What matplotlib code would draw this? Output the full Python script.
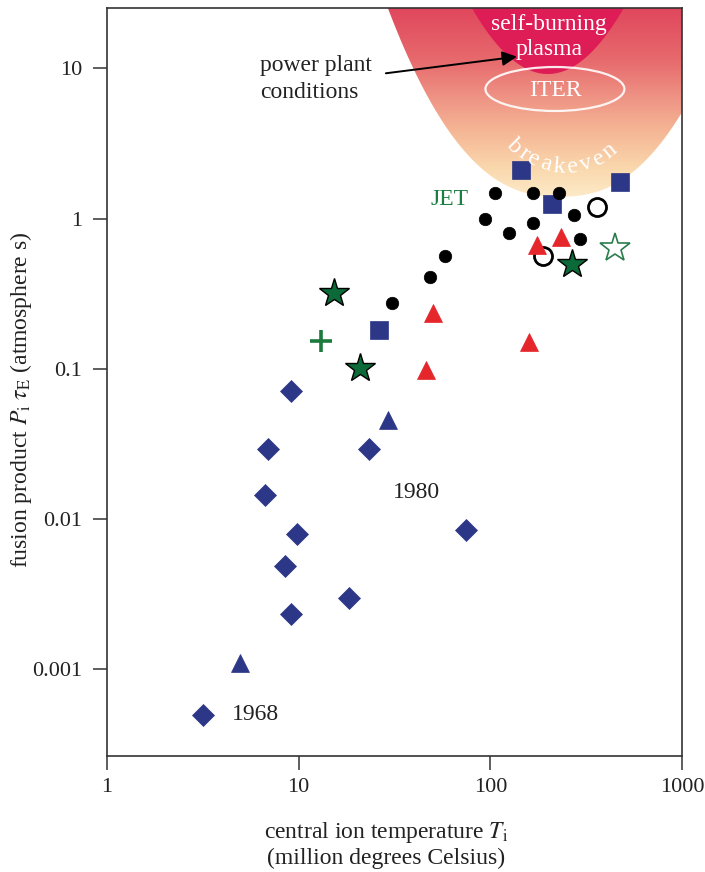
import numpy as np
import matplotlib
matplotlib.use('Agg')
import matplotlib.pyplot as plt
from matplotlib.colors import LinearSegmentedColormap
from matplotlib.patches import Polygon, Ellipse
from matplotlib.transforms import Affine2D
from matplotlib.ticker import NullLocator
from matplotlib.textpath import TextToPath
from matplotlib.font_manager import FontProperties

plt.rcParams['font.family'] = ['Liberation Serif', 'DejaVu Serif']
plt.rcParams['mathtext.fontset'] = 'stix'

# ---------------- data (temperature in million deg C, fusion product in atm s)
diamond_T = [3.18, 9.09, 6.94, 6.67, 9.84, 8.48, 9.09, 18.3, 23.3, 74.3]
diamond_P = [5.0e-4, 0.0715, 0.0293, 0.0145, 0.0080, 0.0049, 0.00233, 0.0030, 0.0291, 0.0085]
btri_T = [4.94, 29.3]
btri_P = [0.00111, 0.0456]
square_T = [26.1, 144, 211, 473]
square_P = [0.180, 2.10, 1.25, 1.76]
circle_T = [105.7, 166.8, 228.8, 93.7, 166.8, 274, 125, 294.5, 58.2, 48.6, 30.8]
circle_P = [1.47, 1.47, 1.48, 0.99, 0.94, 1.06, 0.80, 0.73, 0.56, 0.41, 0.275]
open_circle_T = [361, 189]
open_circle_P = [1.20, 0.56]
rtri_T = [176, 235, 50.4, 159, 46.0]
rtri_P = [0.666, 0.75, 0.234, 0.151, 0.098]
star_T = [15.3, 20.9, 267]
star_P = [0.318, 0.101, 0.498]
open_star_T = [447]
open_star_P = [0.634]
plus_T = [13.1]
plus_P = [0.154]

xticks = [1, 10, 100, 1000]
xticklabels = ['1', '10', '100', '1000']
yticks = [0.001, 0.01, 0.1, 1, 10]
yticklabels = ['0.001', '0.01', '0.1', '1', '10']

NAVY = '#2d3787'
RED = '#e5262b'
GREEN = '#0b6a38'

W, H = 705, 872
fig = plt.figure(figsize=(W / 100, H / 100), dpi=100)
ax = fig.add_axes([107 / W, 1 - 756 / H, 575 / W, 748 / H])
ax.set_xscale('log')
ax.set_yscale('log')

# ---------------- background regions (log-space shapes)
u = np.linspace(-0.2, 3.3, 900)
v_out = np.minimum(0.145 + 1.64 * np.abs(u - 2.36) ** 2.4, 1.9)
outer = np.column_stack([10 ** u, 10 ** v_out])
outer = np.vstack([outer, [[10 ** 3.3, 10 ** 1.9], [10 ** -0.2, 10 ** 1.9]]])
outer_patch = Polygon(outer, closed=True, transform=ax.transData,
                      facecolor='none', edgecolor='none')

stops = [(0.0, '#fdeccb'), (0.156, '#fad9ae'), (0.365, '#f5b594'),
         (0.521, '#ef9686'), (0.729, '#e76a6d'), (1.0, '#e0475d')]
cmap = LinearSegmentedColormap.from_list('bk', stops)
grad = np.linspace(0, 1, 256).reshape(-1, 1)
im = ax.imshow(grad, cmap=cmap, extent=(0, 1, (756 - 200) / 748, 1.0),
               transform=ax.transAxes, aspect='auto', origin='lower',
               interpolation='bilinear', zorder=0.5)
im.set_clip_path(outer_patch)

v_in = np.minimum(0.9614 + 2.8 * (u - 2.30) ** 2, 1.9)
inner = np.column_stack([10 ** u, 10 ** v_in])
inner = np.vstack([inner, [[10 ** 3.3, 10 ** 1.9], [10 ** -0.2, 10 ** 1.9]]])
ax.add_patch(Polygon(inner, closed=True, facecolor='#de1c55',
                     edgecolor='none', zorder=0.6))

ax.add_patch(Ellipse((0.779, (756 - 89) / 748), 0.2417, 0.0588,
                     transform=ax.transAxes, fill=False, edgecolor='white',
                     lw=1.6, alpha=0.9, zorder=0.7))
ax.text(0.779, (756 - 91) / 748, 'ITER', transform=ax.transAxes,
        ha='center', va='center', color='white', fontsize=17, zorder=1.5)
ax.text(0.769, (756 - 37) / 748, 'self-burning\nplasma', transform=ax.transAxes,
        ha='center', va='center', color='white', fontsize=17,
        linespacing=1.25, zorder=1.5)

# curved "breakeven"
pixup = Affine2D().scale(1 / W, 1 / H) + fig.transFigure
BFS = 17.5
fp = FontProperties(family='Liberation Serif', size=BFS)
ttp = TextToPath()
word = 'breakeven'
wpx = [ttp.get_text_width_height_descent(c, fp, ismath=False)[0] * 100 / 72 for c in word]
gap = 2.2
centers = []
s = 0.0
for w in wpx:
    centers.append(s + w / 2)
    s += w + gap
L = s - gap
R = 72.0
cx, cy = 565.0, H - 95.0
th_mid = np.deg2rad(-93.0)
for c, sc in zip(word, centers):
    th = th_mid + (sc - L / 2) / R
    fig.text(cx + R * np.cos(th), cy + R * np.sin(th), c, transform=pixup,
             ha='center', va='center', rotation=np.rad2deg(th) + 90,
             rotation_mode='anchor', color='white', fontsize=BFS, zorder=1.5)

# ---------------- data markers
ax.plot(diamond_T, diamond_P, ls='none', marker='D', ms=11.5, mfc=NAVY, mec=NAVY, mew=0.5, zorder=3)
ax.plot(btri_T, btri_P, ls='none', marker='^', ms=13, mfc=NAVY, mec=NAVY, mew=0.5, zorder=3)
ax.plot(square_T, square_P, ls='none', marker='s', ms=12.5, mfc=NAVY, mec=NAVY, mew=0.5, zorder=3)
ax.plot(circle_T, circle_P, ls='none', marker='o', ms=9, mfc='black', mec='black', mew=0.5, zorder=3)
ax.plot(open_circle_T, open_circle_P, ls='none', marker='o', ms=13, mfc='white', mec='black', mew=2, zorder=3)
ax.plot(rtri_T, rtri_P, ls='none', marker='^', ms=13, mfc=RED, mec=RED, mew=0.5, zorder=3)
ax.plot(star_T, star_P, ls='none', marker='*', ms=22, mfc=GREEN, mec='black', mew=1, zorder=3)
ax.plot(open_star_T, open_star_P, ls='none', marker='*', ms=22, mfc='white', mec='#2a7d4b', mew=1.2, zorder=3)
ax.plot(plus_T, plus_P, ls='none', marker='+', ms=15.5, mec='#1d7a3e', mew=2.6, zorder=3)

# ---------------- annotations
ax.annotate('', xy=(137.6, 11.93), xytext=(28.5, 9.25),
            arrowprops=dict(arrowstyle='-|>', color='black', lw=1.4,
                            mutation_scale=22, shrinkA=0, shrinkB=0), zorder=4)
ax.text(6.28, 8.48, 'power plant\nconditions', ha='left', va='center',
        fontsize=17, color='#222222', linespacing=1.35, zorder=4)
ax.text(61.5, 1.34, 'JET', ha='center', va='center', fontsize=17,
        color='#1a7f40', zorder=4)
ax.text(41.3, 0.0151, '1980', ha='center', va='center', fontsize=17,
        color='#222222', zorder=4)
ax.text(5.92, 5.0e-4, '1968', ha='center', va='center', fontsize=17,
        color='#222222', zorder=4)

# ---------------- axes styling
ax.set_xlim(1, 1000)
ax.set_ylim(10 ** -3.576, 10 ** 1.4005)
ax.set_xticks(xticks)
ax.set_xticklabels(xticklabels)
ax.set_yticks(yticks)
ax.set_yticklabels(yticklabels)
ax.xaxis.set_minor_locator(NullLocator())
ax.yaxis.set_minor_locator(NullLocator())
ax.tick_params(which='major', direction='out', length=10, width=1.1,
               color='#333333', labelsize=16, labelcolor='#222222')
ax.tick_params(axis='x', pad=6)
ax.tick_params(axis='y', pad=8)
for sp in ax.spines.values():
    sp.set_color('#333333')
    sp.set_linewidth(1.2)

pix = Affine2D().scale(1 / W, -1 / H).translate(0, 1) + fig.transFigure
fig.text(386, 838, 'central ion temperature $T_{\\mathrm{i}}$', transform=pix,
         ha='center', va='baseline', fontsize=17, color='#222222')
fig.text(386, 864, '(million degrees Celsius)', transform=pix,
         ha='center', va='baseline', fontsize=17, color='#222222')
fig.text(21, 400, 'fusion product $P_{\\mathrm{i}}\\ \\tau_{\\mathrm{E}}$ (atmosphere s)',
         transform=pix, ha='center', va='center', rotation=90, fontsize=17,
         color='#222222')

fig.savefig('out.png', dpi=100)
